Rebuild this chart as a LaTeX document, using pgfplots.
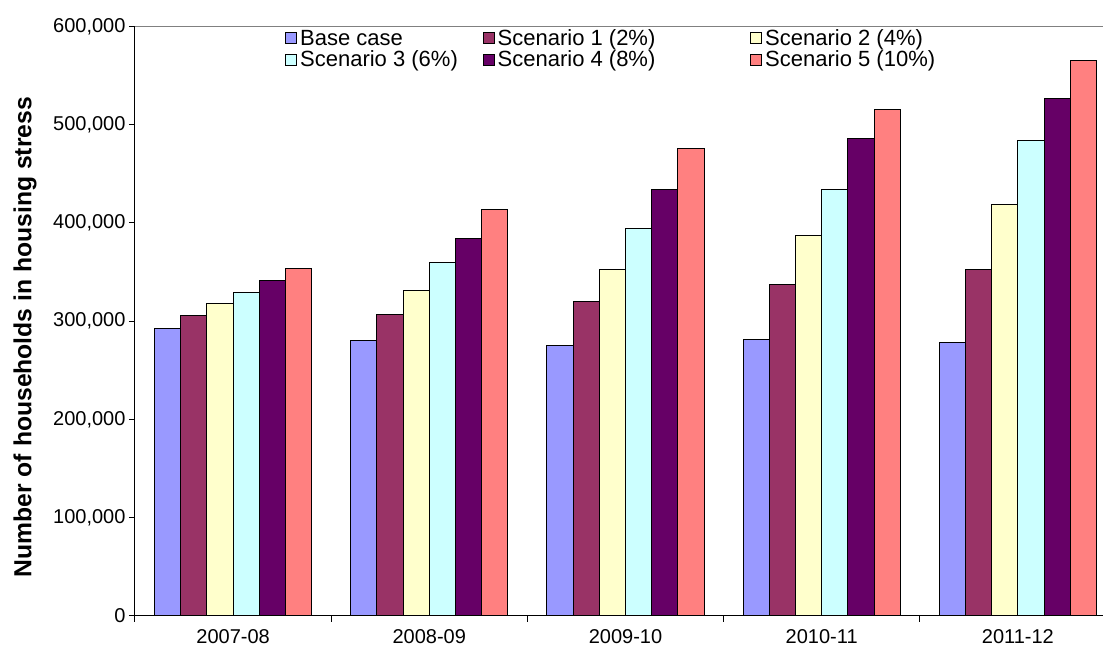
\documentclass[border=0pt]{standalone}
\usepackage{pgfplots}
\pgfplotsset{compat=1.18}
\usepackage{fontspec}
\setmainfont{Liberation Sans}
\usetikzlibrary{calc}
\definecolor{cBase}{HTML}{9999FF}
\definecolor{cS1}{HTML}{993366}
\definecolor{cS2}{HTML}{FFFFCC}
\definecolor{cS3}{HTML}{CCFFFF}
\definecolor{cS4}{HTML}{660066}
\definecolor{cS5}{HTML}{FF8080}
\begin{document}
\begin{tikzpicture}
\begin{axis}[
  scale only axis, width=981pt, height=589.7pt,
  ybar=0pt, bar width=0.1335,
  xmin=-0.5, xmax=4.5, ymin=0, ymax=600000,
  enlargelimits=false, clip=false,
  xtick={-0.5,0.5,1.5,2.5,3.5,4.5},
  xticklabels={2007-08,2008-09,2009-10,2010-11,2011-12,},
  xticklabel style={xshift=98.1pt, yshift=-4pt},
  ytick={0,100000,200000,300000,400000,500000,600000},
  scaled y ticks=false,
  yticklabel style={/pgf/number format/.cd, fixed, precision=0, 1000 sep={,}},
  /pgf/number format/assume math mode=true,
  tick label style={font=\fontsize{20}{24}\selectfont},
  ylabel={Number of households in housing stress},
  ylabel style={font=\bfseries\fontsize{24.7}{28}\selectfont, at={(axis description cs:0,0.5)}, anchor=center, yshift=110pt, xshift=-16pt},
  axis x line*=bottom, axis y line*=left,
  axis line style={-, black, line width=1pt},
  tick align=outside, major tick length=6pt,
  tick style={black, line width=1pt},
  legend columns=3,
  legend cell align=left,
  legend style={draw=none, fill=none, at={(rel axis cs:0.150,0.999)}, anchor=north west,
    font=\fontsize{22}{25}\selectfont, row sep=3pt,
    nodes={inner ysep=0.5pt},
    /tikz/every odd column/.append style={column sep=1pt},
    /tikz/column 2/.style={column sep=23pt},
    /tikz/column 4/.style={column sep=93pt}},
  legend image code/.code={\draw[#1, line width=0.8pt] (0pt,-5.5pt) rectangle (11pt,5.5pt);},
]
\addplot[fill=cBase, draw=black, line width=1pt] coordinates {(0,292300) (1,280500) (2,275700) (3,281500) (4,278500)};
\addplot[fill=cS1, draw=black, line width=1pt] coordinates {(0,305600) (1,307000) (2,319800) (3,336800) (4,352100)};
\addplot[fill=cS2, draw=black, line width=1pt] coordinates {(0,317500) (1,331000) (2,352400) (3,387000) (4,418500)};
\addplot[fill=cS3, draw=black, line width=1pt] coordinates {(0,329000) (1,359500) (2,394500) (3,433800) (4,483600)};
\addplot[fill=cS4, draw=black, line width=1pt] coordinates {(0,340900) (1,383600) (2,433500) (3,485700) (4,526400)};
\addplot[fill=cS5, draw=black, line width=1pt] coordinates {(0,353800) (1,414100) (2,475500) (3,514900) (4,565700)};
\legend{Base case, Scenario 1 (2\%), Scenario 2 (4\%), Scenario 3 (6\%), Scenario 4 (8\%), Scenario 5 (10\%)}
\draw[gray, line width=1pt] (rel axis cs:0,1) -- (rel axis cs:1,1) -- (rel axis cs:1,0);
\coordinate (ll) at (rel axis cs:0,0);
\end{axis}
\pgfresetboundingbox
\useasboundingbox ($(ll)+(-135pt,-39pt)$) rectangle ($(ll)+(968pt,616pt)$);
\end{tikzpicture}
\end{document}
